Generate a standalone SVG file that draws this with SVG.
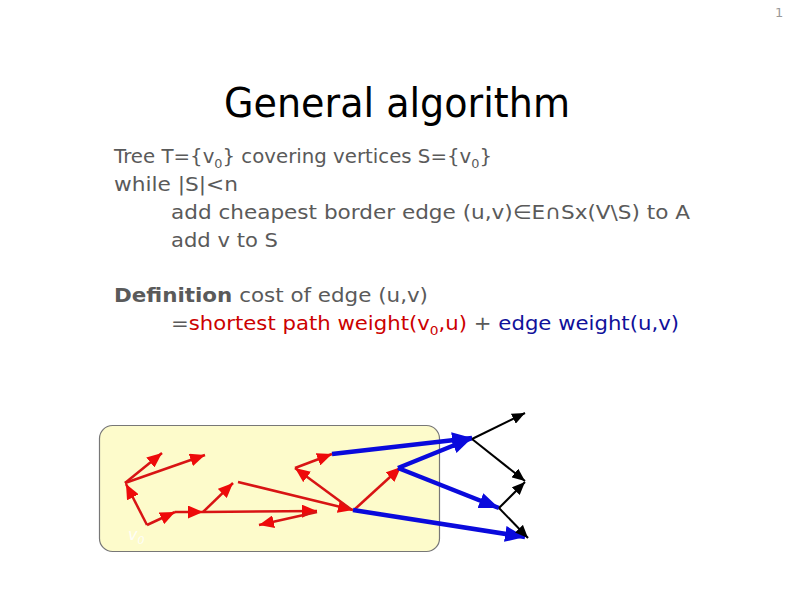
<svg xmlns="http://www.w3.org/2000/svg" width="794" height="595" viewBox="0 0 794 595">
<defs>
<style>
.body{font-family:"DejaVu Sans","Liberation Sans",sans-serif;font-size:20px;fill:#5a5a5a}
.sub{font-size:13px}
.red{stroke:#d81414;stroke-width:2.5;fill:none;marker-end:url(#ar)}
.blue{stroke:#0a0adc;stroke-width:4.5;fill:none;marker-end:url(#ab)}
.black{stroke:#000;stroke-width:2;fill:none;marker-end:url(#ak)}
</style>
<marker id="ar" markerUnits="userSpaceOnUse" markerWidth="15" markerHeight="13" refX="15" refY="6.5" orient="auto"><path d="M0,0 L15,6.5 L0,13 z" fill="#ee0a0a"/></marker>
<marker id="ab" markerUnits="userSpaceOnUse" markerWidth="20" markerHeight="16" refX="20" refY="8" orient="auto"><path d="M0,0 L20,8 L0,16 z" fill="#0a0adc"/></marker>
<marker id="ak" markerUnits="userSpaceOnUse" markerWidth="13" markerHeight="11" refX="13" refY="5.5" orient="auto"><path d="M0,0 L13,5.5 L0,11 z" fill="#000"/></marker>
</defs>
<rect width="794" height="595" fill="#fff"/>
<text x="775" y="17" font-family="DejaVu Sans, sans-serif" font-size="13" fill="#999">1</text>
<g id="title"><text x="224" y="117" font-family="DejaVu Sans, sans-serif" font-size="41" fill="#000" textLength="346" lengthAdjust="spacingAndGlyphs">General algorithm</text></g>
<g id="algorithm" class="body">
<text x="114" y="163" textLength="378" lengthAdjust="spacingAndGlyphs">Tree T={v<tspan class="sub" dy="5">0</tspan><tspan dy="-5">} covering vertices S={v</tspan><tspan class="sub" dy="5">0</tspan><tspan dy="-5">}</tspan></text>
<text x="114" y="191" textLength="124" lengthAdjust="spacingAndGlyphs">while |S|&lt;n</text>
<text x="171" y="219" textLength="519" lengthAdjust="spacingAndGlyphs">add cheapest border edge (u,v)∈E∩Sx(V\S) to A</text>
<text x="171" y="247" textLength="107" lengthAdjust="spacingAndGlyphs">add v to S</text>
</g>
<g id="definition" class="body">
<text x="114" y="302" textLength="314" lengthAdjust="spacingAndGlyphs"><tspan font-weight="bold">Definition</tspan> cost of edge (u,v)</text>
<text x="171" y="330" textLength="508" lengthAdjust="spacingAndGlyphs">=<tspan fill="#cc0000">shortest path weight(v</tspan><tspan class="sub" fill="#cc0000" dy="5">0</tspan><tspan fill="#cc0000" dy="-5">,u)</tspan> + <tspan fill="#10109a">edge weight(u,v)</tspan></text>
</g>
<g id="region">
<rect x="99.5" y="425.5" width="340" height="126" rx="13" fill="#fdfbcb" stroke="#777" stroke-width="1.2"/>
<text x="128" y="540" font-family="DejaVu Sans, sans-serif" font-size="16" font-style="italic" fill="#fff" opacity="0.85">v<tspan font-size="11" dy="4">0</tspan></text>
</g>
<g id="connectors">
<line class="red" x1="125" y1="483" x2="162" y2="453"/>
<line class="red" x1="125" y1="483" x2="205" y2="455"/>
<line class="red" x1="147" y1="525" x2="126" y2="484"/>
<line class="red" x1="147" y1="525" x2="175" y2="512"/>
<line class="red" x1="175" y1="512" x2="203" y2="512"/>
<line class="red" x1="203" y1="512" x2="317" y2="511"/>
<line class="red" x1="203" y1="512" x2="233" y2="483"/>
<line class="red" x1="238" y1="482" x2="353" y2="510"/>
<line class="red" x1="317" y1="512" x2="259" y2="525"/>
<line class="red" x1="352" y1="510" x2="295" y2="468"/>
<line class="red" x1="295" y1="468" x2="332" y2="454"/>
<line class="red" x1="355" y1="509" x2="401" y2="467"/>
<line class="blue" x1="332" y1="454" x2="472" y2="438"/>
<line class="blue" x1="398" y1="468" x2="472" y2="438"/>
<line class="blue" x1="398" y1="468" x2="499" y2="508"/>
<line class="blue" x1="353" y1="510" x2="525" y2="537"/>
<line class="black" x1="472" y1="439" x2="525" y2="413"/>
<line class="black" x1="472" y1="439" x2="525" y2="481"/>
<line class="black" x1="499" y1="508" x2="525" y2="482"/>
<line class="black" x1="499" y1="508" x2="528" y2="538"/>
</g>
</svg>
